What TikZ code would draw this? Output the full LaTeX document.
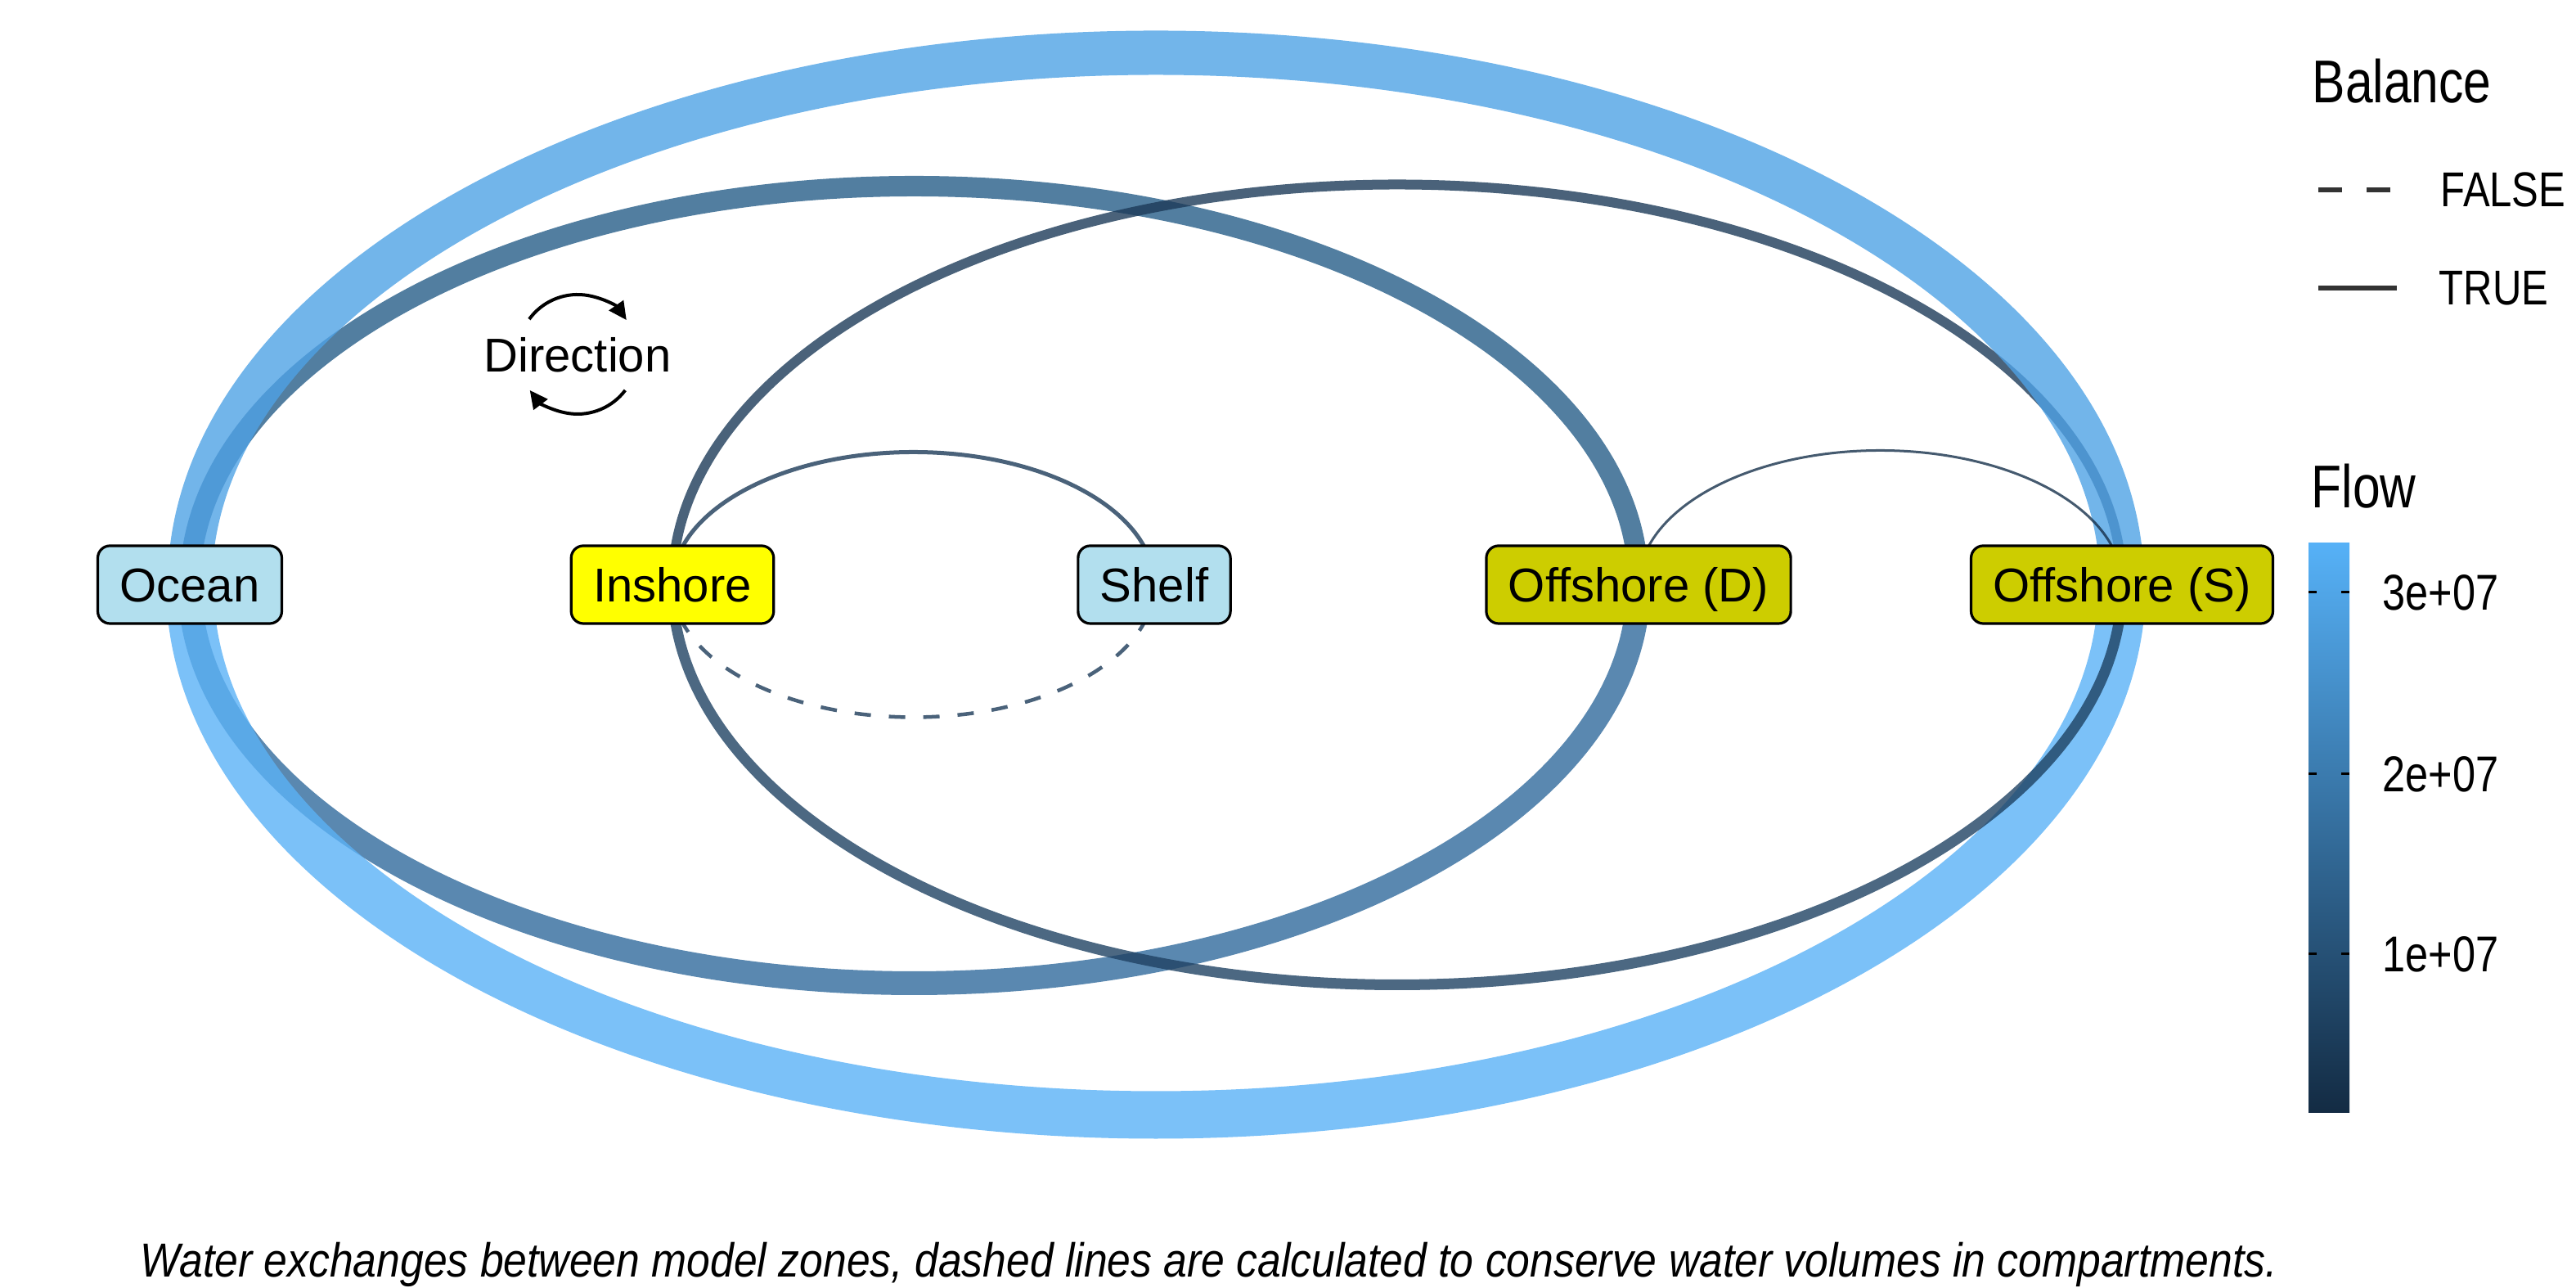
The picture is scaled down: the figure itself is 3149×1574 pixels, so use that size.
\documentclass[tikz,border=0pt]{standalone}
\usepackage{fontspec}
\setmainfont{Liberation Sans}
\newfontfamily\narrowfont[FakeStretch=0.82]{Liberation Sans}
\newfontfamily\captionfont[FakeStretch=0.885]{Liberation Sans}
\usetikzlibrary{arrows.meta,backgrounds}
\definecolor{oceanfill}{HTML}{B2DFEE}
\definecolor{inshorefill}{HTML}{FFFF00}
\definecolor{offfill}{HTML}{CDCD00}
\definecolor{lighttop}{HTML}{4FA2E5}
\definecolor{lightbot}{HTML}{5AB1F6}
\definecolor{thicktop}{HTML}{275E88}
\definecolor{thickbot}{HTML}{316A9C}
\definecolor{thinc}{HTML}{1D3B59}
\definecolor{thinbot}{HTML}{1F4263}
\definecolor{finec}{HTML}{17314B}
\definecolor{legline}{HTML}{333333}
\definecolor{barlow}{HTML}{132B43}
\definecolor{barhigh}{HTML}{56B1F7}
\begin{document}
\begin{tikzpicture}[x=0.01cm,y=0.01cm,
  zone/.style={draw=black, line width=0.32mm, rounded corners=1.5mm,
    font=\fontsize{16.5}{19}\selectfont, text height=11.8pt, text depth=0pt,
    minimum height=0.95cm, inner ysep=0pt, inner xsep=2.7mm},
  flowedge/.style={draw opacity=0.8, line cap=butt},
  legtitle/.style={font=\narrowfont\fontsize{21}{24}\selectfont, inner sep=0pt, anchor=base west},
  leglabel/.style={font=\narrowfont\fontsize{17}{20}\selectfont, inner sep=0pt, anchor=base west},
  ticklabel/.style={font=\narrowfont\fontsize{17.5}{20}\selectfont, inner sep=0pt, anchor=west},
  dirarrow/.style={line width=0.4mm, -{Triangle[length=2.2mm,width=2.1mm]}}
]
\useasboundingbox (0,0) rectangle (3149,1574);

% zones
\node[zone, fill=oceanfill]   (ocean)   at (232,859.5)  {Ocean};
\node[zone, fill=inshorefill] (inshore) at (822,859.5)  {Inshore};
\node[zone, fill=oceanfill]   (shelf)   at (1411,859.5) {Shelf};
\node[zone, fill=offfill]     (offd)    at (2003,859.5) {Offshore (D)};
\node[zone, fill=offfill]     (offs)    at (2594,859.5) {Offshore (S)};

% flows
\begin{scope}[on background layer]
  \draw[flowedge, thicktop, line width=2.5mm] (ocean.center) arc[start angle=180, end angle=0, x radius=885.5, y radius=487];
  \draw[flowedge, thickbot, line width=2.9mm] (ocean.center) arc[start angle=180, end angle=360, x radius=885.5, y radius=487];
  \draw[flowedge, thinc, line width=1.2mm] (inshore.center) arc[start angle=180, end angle=0, x radius=886, y radius=489];
  \draw[flowedge, lighttop, line width=5.4mm] (ocean.center) arc[start angle=180, end angle=0, x radius=1181, y radius=650];
  \draw[flowedge, lightbot, line width=5.8mm] (ocean.center) arc[start angle=180, end angle=360, x radius=1181, y radius=648];
  \draw[flowedge, thinbot, line width=1.3mm] (inshore.center) arc[start angle=180, end angle=360, x radius=886, y radius=489];
  \draw[flowedge, thinc, line width=0.5mm] (inshore.center) arc[start angle=180, end angle=0, x radius=294.5, y radius=162];
  \draw[flowedge, thinc, line width=0.45mm, dash pattern=on 2mm off 2.2mm] (inshore.center) arc[start angle=180, end angle=360, x radius=294.5, y radius=162];
  \draw[flowedge, finec, line width=0.3mm] (offd.center) arc[start angle=180, end angle=0, x radius=295.5, y radius=164];
\end{scope}

% direction glyph
\node[font=\fontsize{16.5}{19}\selectfont, inner sep=0pt, anchor=base] (dirlabel) at (706,1119) {Direction};
\coordinate (dirc) at (706,1141);
\draw[dirarrow] ([shift={(144:73)}]dirc) arc[start angle=144, end angle=35, radius=73];
\draw[dirarrow] ([shift={(-37:73)}]dirc) arc[start angle=-37, end angle=-143, radius=73];

% legend: Balance
\node[legtitle] (baltitle) at (2826,1448) {Balance};
\coordinate (fa) at (2834,1342); \coordinate (fb) at (2923,1342);
\draw[legline, line width=0.6mm, dash pattern=on 2.9mm off 3mm] (fa) -- (fb);
\node[leglabel] (false) at (2983,1321) {FALSE};
\coordinate (ta) at (2834,1222); \coordinate (tb) at (2930,1222);
\draw[legline, line width=0.6mm] (ta) -- (tb);
\node[leglabel] (true) at (2981,1201) {TRUE};

% legend: Flow
\node[legtitle] (flowtitle) at (2825,953) {Flow};
\shade[bottom color=barlow, top color=barhigh] (2822,214) rectangle (2872,910);
\foreach \yy/\lab in {850/3e+07, 628/2e+07, 408/1e+07}{
  \draw[black, line width=0.3mm] (2822,\yy) -- (2832,\yy);
  \draw[black, line width=0.3mm] (2862,\yy) -- (2872,\yy);
  \node[ticklabel] at (2912,\yy) {\lab};
}

% caption
\node[font=\captionfont\itshape\fontsize{16.6}{20}\selectfont, inner sep=0pt, anchor=base west] (caption) at (171,13)
  {Water exchanges between model zones, dashed lines are calculated to conserve water volumes in compartments.};
\end{tikzpicture}
\end{document}
